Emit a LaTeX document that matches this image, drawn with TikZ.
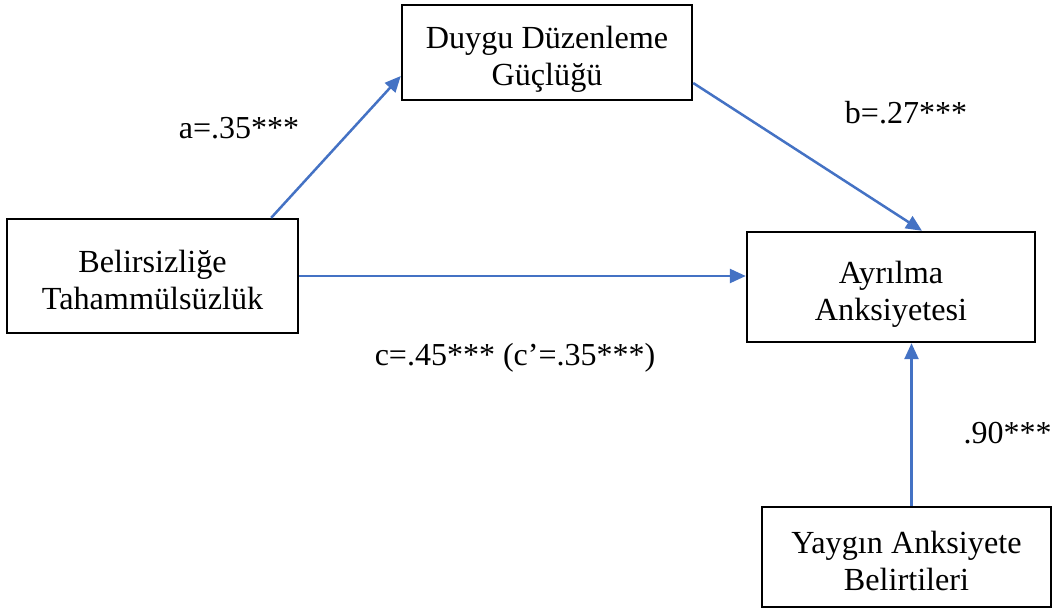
\documentclass[tikz,border=0pt]{standalone}
\usepackage{fontspec}
\setmainfont{Liberation Serif}
\usetikzlibrary{arrows.meta}
\definecolor{arrblue}{HTML}{4472C4}
\newcommand{\toprl}{\rule{0pt}{40pt}}
\newcommand{\botrl}{\rule[-11pt]{0pt}{11pt}}
\tikzset{
  box/.style={draw=black, line width=2.4pt, rectangle, align=center, inner sep=0pt,
    font=\fontsize{32.2}{37}\selectfont},
  arr/.style={draw=arrblue, line width=2.5pt, -{Triangle[length=16pt,width=14pt]}},
  lab/.style={font=\fontsize{32}{37}\selectfont, inner sep=0pt, anchor=base}
}
\begin{document}
\begin{tikzpicture}[x=1pt,y=-1pt]
\useasboundingbox (0,0) rectangle (1057,613);
\node[box, minimum width=290pt, minimum height=95pt] (top) at (547,52.5) {\toprl Duygu Düzenleme\\Güçlüğü\botrl};
\node[box, minimum width=291pt, minimum height=114pt] (left) at (152.5,276) {\toprl Belirsizliğe\\Tahammülsüzlük\botrl};
\node[box, minimum width=288pt, minimum height=110pt] (right) at (891,287) {\toprl Ayrılma\\Anksiyetesi\botrl};
\node[box, minimum width=289pt, minimum height=100pt] (bottom) at (906.5,557) {\toprl Yaygın Anksiyete\\Belirtileri\botrl};
\draw[arr] ([xshift=-28pt]left.north east) -- ([yshift=-23.5pt]top.west);
\draw[arr] ([yshift=-30.5pt]top.east) -- ([xshift=31pt]right.north);
\draw[arr] (left.east) -- (left.east -| right.west);
\draw[arr] ([xshift=5pt]bottom.north) -- ([xshift=5pt]bottom.north |- right.south);
\node[lab] (la) at (239,138) {a=.35***};
\node[lab] (lb) at (906,123) {b=.27***};
\node[lab] (lc) at (515,365) {c=.45*** (c’=.35***)};
\node[lab] (ld) at (1007.5,443) {.90***};
\end{tikzpicture}
\end{document}
